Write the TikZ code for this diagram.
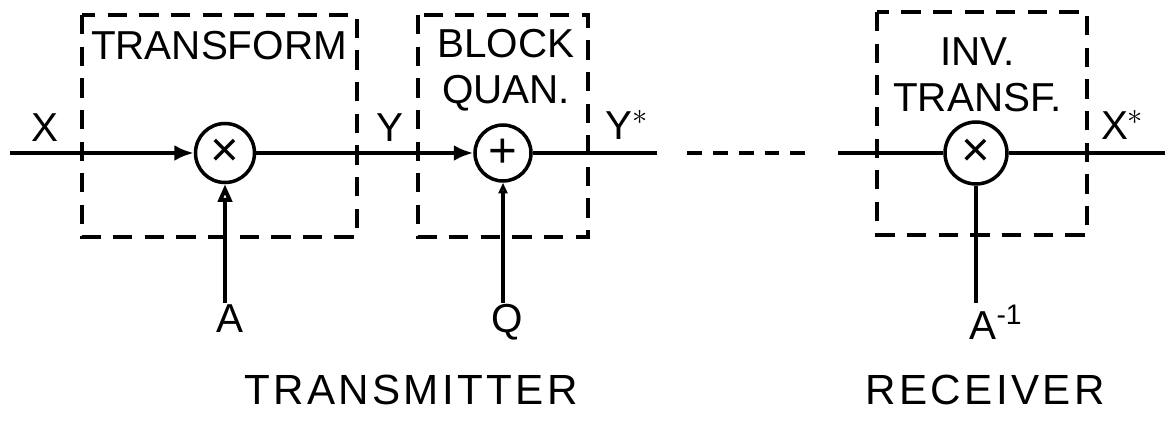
\documentclass[tikz,border=0pt]{standalone}
\usepackage{fontspec}
\setmainfont{Liberation Sans}
\usetikzlibrary{arrows.meta}

\begin{document}
\begin{tikzpicture}[
    blockbox/.style={draw, line width=2pt, dash pattern=on 11pt off 7pt},
    opnode/.style={draw, circle, line width=2pt, inner sep=0pt,
                   minimum size=1.18cm, font=\fontsize{28}{28}\selectfont},
    sig/.style={line width=2.2pt},
    sigarrow/.style={line width=2.2pt, -{Latex[length=11pt,width=9pt]}},
    ctrlarrow/.style={line width=2.2pt, -{Triangle[open,length=10pt,width=8pt]}},
    channel/.style={line width=2.2pt, dash pattern=on 8.5pt off 6.2pt},
    lbl/.style={font=\fontsize{23}{25}\selectfont, inner sep=1pt},
    boxlbl/.style={font=\fontsize{23}{26}\selectfont, align=center, inner sep=0pt},
    sidelbl/.style={font=\fontsize{24}{26}\selectfont\addfontfeatures{LetterSpace=8}}
]
\useasboundingbox (0,0) rectangle (23.46,-8.46);

% Sender
\coordinate (xin) at (0.2,-3.06);
\node[opnode] (mul) at (4.5,-3.06) {×};
\node[opnode, minimum size=1.12cm] (add) at (10.06,-3.06) {+};
\coordinate (yout) at (13.14,-3.06);

\draw[blockbox] (1.64,-0.3) rectangle (7.14,-4.74);
\node[boxlbl] (trf) at (4.38,-0.92) {TRANSFORM};
\draw[blockbox] (8.36,-0.3) rectangle (11.76,-4.74);
\node[boxlbl] (bq) at (10.12,-1.4) {BLOCK\\QUAN.};

\draw[sigarrow] (xin) -- (mul);
\draw[sigarrow] (mul) -- (add);
\draw[sig] (add) -- (yout);

\node[lbl] (x) at (0.9,-2.55) {X};
\node[lbl] (y) at (7.8,-2.55) {Y};
\node[lbl] (ys) at (12.55,-2.5) {Y$^{*}$};

\node[lbl, anchor=north] (a) at (4.6,-6.05) {A};
\node[lbl, anchor=north] (q) at (10.14,-6.05) {Q};
\draw[ctrlarrow] (a.north -| mul) -- (mul);
\draw[line width=2.2pt, -{Triangle[open,length=6pt,width=5pt]}] (q.north -| add) -- (add);

% Kanal
\coordinate (ch1) at (13.74,-3.06);
\coordinate (ch2) at (16.14,-3.06);
\draw[channel] (ch1) -- (ch2);

% Empfaenger
\coordinate (rin) at (16.76,-3.06);
\node[opnode, minimum size=1.24cm] (inv) at (19.52,-3.06) {×};
\coordinate (xout) at (23.3,-3.06);

\draw[blockbox] (17.54,-0.24) rectangle (21.74,-4.7);
\node[boxlbl] (it) at (19.55,-1.5) {INV.\\TRANSF.};

\draw[sig] (rin) -- (inv);
\draw[sig] (inv) -- (xout);
\node[lbl] (xs) at (22.45,-2.5) {X$^{*}$};

\node[lbl, anchor=north west] (ainv) at (19.35,-6.05) {A\textsuperscript{-1}};
\draw[sig] (inv |- ainv.north) -- (inv);

% Beschriftung
\node[sidelbl] (tx) at (8.22,-7.8) {TRANSMITTER};
\node[sidelbl] (rx) at (19.7,-7.8) {RECEIVER};

\end{tikzpicture}
\end{document}
